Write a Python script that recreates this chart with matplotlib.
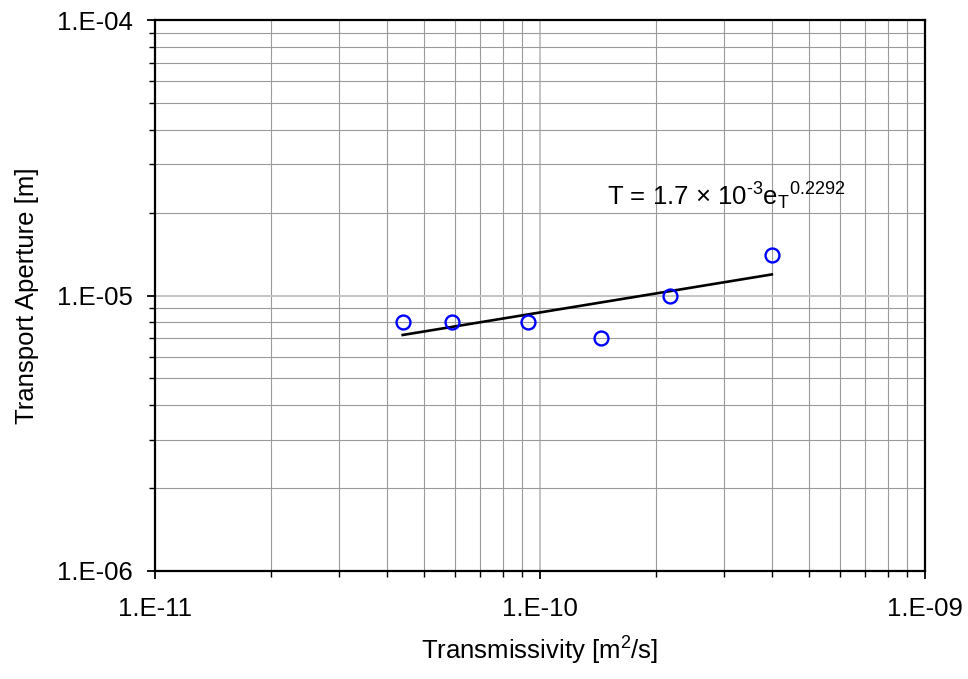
import numpy as np
import matplotlib

matplotlib.use("Agg")
import matplotlib.pyplot as plt
from matplotlib.ticker import LogLocator, FuncFormatter, NullFormatter

transmissivity = [4.4e-11, 5.9e-11, 9.3e-11, 1.44e-10, 2.18e-10, 4.0e-10]
aperture = [8.0e-6, 8.0e-6, 8.0e-6, 7.0e-6, 1.0e-5, 1.4e-5]

# power-law fit shown on the chart: e_T = a * T^b
fit_a = 1.7e-3
fit_b = 0.2292

plt.rcParams["font.family"] = ["Liberation Sans", "DejaVu Sans"]
plt.rcParams["mathtext.fontset"] = "custom"
plt.rcParams["mathtext.rm"] = "Liberation Sans"
plt.rcParams["mathtext.it"] = "Liberation Sans:italic"
FS = 18.5

fig = plt.figure(figsize=(9.68, 6.79), dpi=100)
ax = fig.add_axes([155 / 968, 108 / 679, 770 / 968, 551 / 679])
ax.set_xscale("log"); ax.set_yscale("log")
ax.set_xlim(1e-11, 1e-9); ax.set_ylim(1e-6, 1e-4)

ax.grid(True, which="minor", color="#9a9a9a", lw=0.8)
ax.grid(True, which="major", color="#c4c4c4", lw=1.4)
ax.set_axisbelow(True)

fx = np.logspace(np.log10(min(transmissivity)), np.log10(max(transmissivity)), 50)
ax.plot(fx, fit_a * fx ** fit_b, color="black", lw=1.9, zorder=3)
ax.plot(transmissivity, aperture, "o", mfc="none", mec="#0000ff", mew=1.7, ms=10, zorder=4)

ax.text(1.49e-10, 2.3e-5,
        "T = 1.7 × 10$^{\\text{-3}}$e$_{\\mathregular{T}}$$^{\\mathregular{0.2292}}$",
        fontsize=FS, ha="left", va="center")

fmt = FuncFormatter(lambda v, p: f"1.E{int(round(np.log10(v))):03d}")
for axis in (ax.xaxis, ax.yaxis):
    axis.set_major_locator(LogLocator(base=10, numticks=10))
    axis.set_minor_locator(LogLocator(base=10, subs=np.arange(2, 10), numticks=10))
    axis.set_major_formatter(fmt)
    axis.set_minor_formatter(NullFormatter())

ax.tick_params(which="major", direction="out", length=6, width=1.3, labelsize=FS)
ax.tick_params(which="minor", direction="out", length=4, width=1.0)
ax.tick_params(axis="x", which="major", pad=13)
ax.tick_params(axis="y", which="major", pad=10)
for s in ax.spines.values():
    s.set_linewidth(1.6); s.set_color("black")

ax.set_xlabel("Transmissivity [m$^{\\mathregular{2}}$/s]", fontsize=FS, labelpad=10)
ax.set_ylabel("Transport Aperture [m]", fontsize=FS, labelpad=13)

fig.savefig("out.png", dpi=100, facecolor="white")
